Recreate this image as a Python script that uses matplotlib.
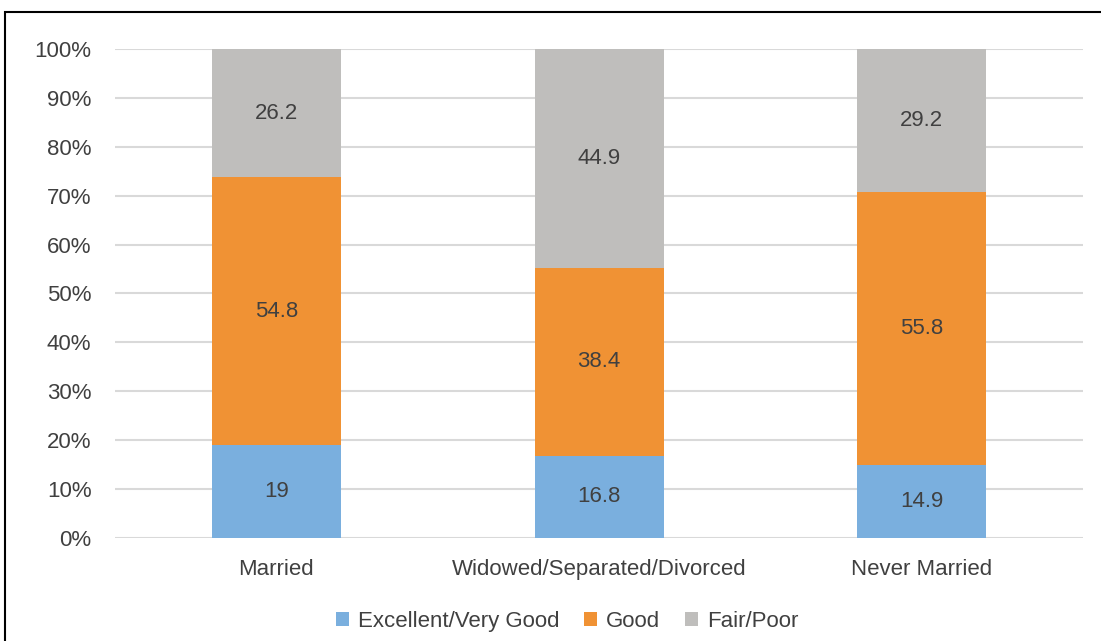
import matplotlib
matplotlib.use('Agg')
import matplotlib.pyplot as plt
from matplotlib.patches import Rectangle
from matplotlib.ticker import FuncFormatter
import numpy as np

plt.rcParams['font.family'] = ['Liberation Sans', 'DejaVu Sans']

groups = ['Married', 'Widowed/Separated/Divorced', 'Never Married']
series_names = ['Excellent/Very Good', 'Good', 'Fair/Poor']
excellent = [19, 16.8, 14.9]
good = [54.8, 38.4, 55.8]
fair = [26.2, 44.9, 29.2]
yticks = [0, 10, 20, 30, 40, 50, 60, 70, 80, 90, 100]

colors = ['#7AAFDE', '#F09234', '#BFBEBC']
txt = '#404040'
fs = 16

fig = plt.figure(figsize=(11.01, 6.41), dpi=100)
ax = fig.add_axes([0.1045, 0.1607, 0.8792, 0.7629])

# frame around the chart area
fig.patches.append(Rectangle((5 / 1101, -0.1), 1.2, 1 - 12 / 641 + 0.1,
                             transform=fig.transFigure, fill=False,
                             edgecolor='black', linewidth=1.5))

x = np.arange(len(groups))
bottom = np.zeros(len(groups))
for vals, name, c in zip([excellent, good, fair], series_names, colors):
    ax.bar(x, vals, width=0.4, bottom=bottom, color=c, label=name, zorder=3)
    for xi, b, v in zip(x, bottom, vals):
        ax.text(xi, b + v / 2, '%g' % v, ha='center', va='center',
                fontsize=fs, color=txt, zorder=4)
    bottom = bottom + np.array(vals)

ax.set_xlim(-0.5, 2.5)
ax.set_ylim(0, 100)
ax.set_yticks(yticks)
ax.yaxis.set_major_formatter(FuncFormatter(lambda v, p: '%d%%' % v))
ax.set_xticks(x)
ax.set_xticklabels(groups)
ax.tick_params(axis='both', length=0, labelsize=fs, labelcolor=txt)
ax.tick_params(axis='y', pad=17)
ax.tick_params(axis='x', pad=15)
ax.grid(axis='y', color='#D9D9D9', linewidth=1.5, zorder=0)
for s in ax.spines.values():
    s.set_visible(False)

ax.legend(loc='center', bbox_to_anchor=(0.467, -0.17), ncol=3,
          frameon=False, fontsize=fs, handlelength=0.6, handleheight=0.6,
          handletextpad=0.4, columnspacing=1.1, labelcolor=txt)

plt.savefig('out.png', dpi=100)
